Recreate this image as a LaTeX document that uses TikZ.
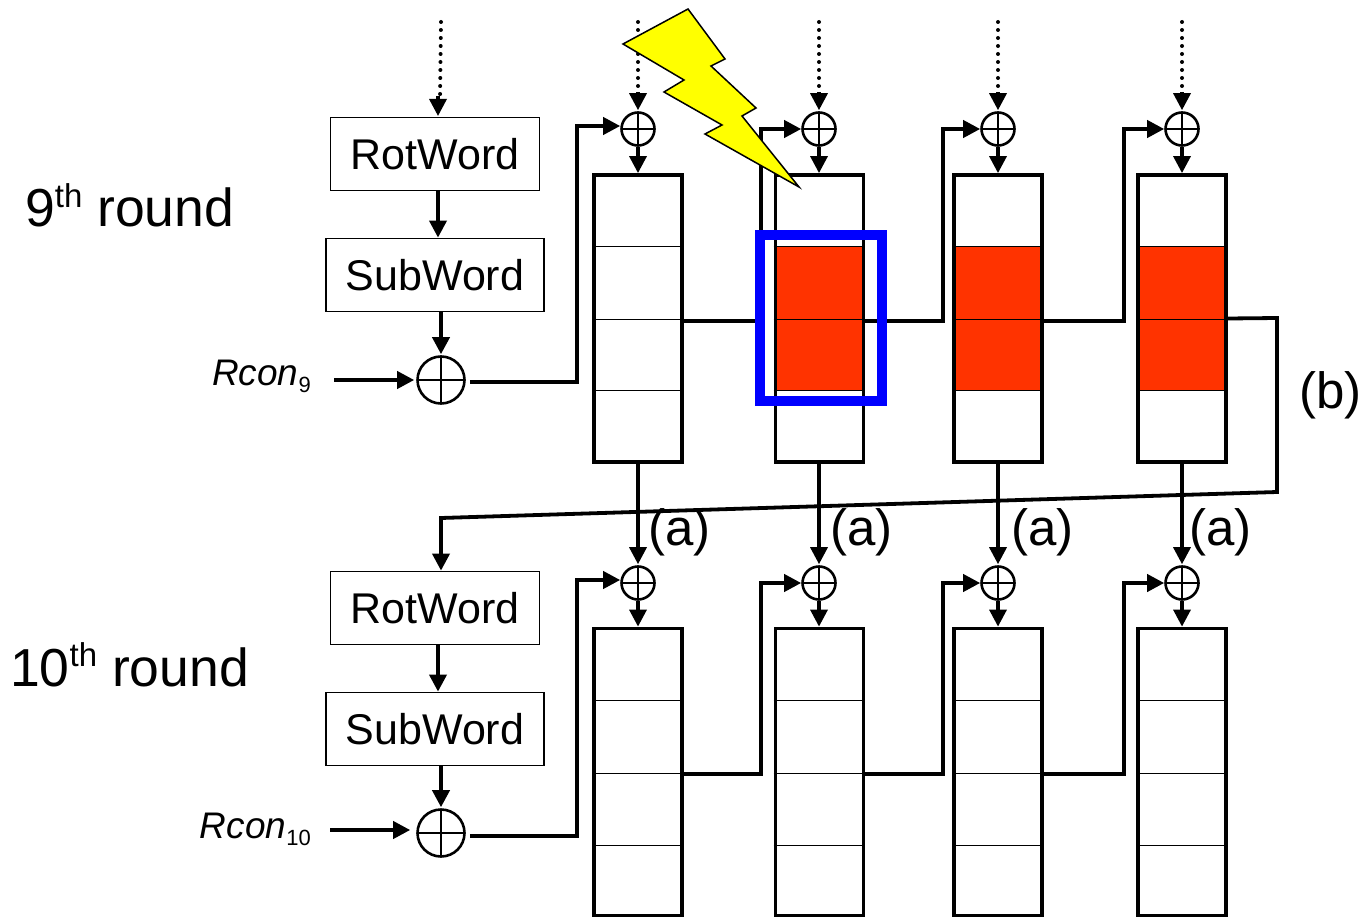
\documentclass[tikz,border=0pt]{standalone}
\usepackage{fontspec}
\setmainfont{Liberation Sans}
\usetikzlibrary{arrows.meta}
\definecolor{hotred}{RGB}{255,51,0}
\definecolor{purebluex}{RGB}{0,0,255}
\definecolor{boltyellow}{RGB}{255,255,0}
\tikzset{
  conn/.style={line width=3.8pt,-{Triangle[length=17pt,width=17pt]}},
  wirethin/.style={line width=3.4pt,-{Triangle[length=17pt,width=17pt]}},
  dotline/.style={line width=4pt,line cap=round,dash pattern=on 0pt off 8pt},
  opbox/.style={draw,line width=1.8pt,inner sep=0pt,font=\fontsize{43}{43}\selectfont,minimum height=73pt},
  colbox/.style={draw,line width=3.8pt,minimum width=88pt,minimum height=287pt,inner sep=0pt},
  cellline/.style={line width=1pt},
  xorsmall/.style={circle,draw,line width=2.6pt,minimum size=33pt,inner sep=0pt,
    path picture={\draw[line width=2.6pt] (path picture bounding box.north)--(path picture bounding box.south)
      (path picture bounding box.west)--(path picture bounding box.east);}},
  xorbig/.style={xorsmall,minimum size=47pt},
  txt/.style={inner sep=0pt,anchor=base west},
  bigtext/.style={txt,font=\fontsize{53.5}{53.5}\selectfont},
  lbl/.style={txt,font=\fontsize{51}{51}\selectfont},
  rc/.style={inner sep=0pt,anchor=base east,font=\fontsize{37}{37}\selectfont}
}
\begin{document}
\begin{tikzpicture}[x=1pt,y=-1pt]
\useasboundingbox (0,0) rectangle (1364,917);
% red cells
\foreach \a/\b in {777/862,955/1041,1139/1225}
  \fill[hotred] (\a,247) rectangle (\b,390);
% columns
\foreach \n/\x/\y in {c1/638/318.5,c2/819.5/318.5,c3/998/318.5,c4/1182/318.5,d1/638/772,d2/819.5/772,d3/998/772,d4/1182/772}
  \node[colbox] (\n) at (\x,\y) {};
\foreach \n/\y in {c1/247,c1/319,c1/390,c2/247,c2/319,c2/390,c3/247,c3/319,c3/390,c4/247,c4/319,c4/390,
                   d1/700,d1/773,d1/845,d2/700,d2/773,d2/845,d3/700,d3/773,d3/845,d4/700,d4/773,d4/845}
  \draw[cellline] (\n.west |- 0,\y) -- (\n.east |- 0,\y);
% xors
\foreach \n/\x/\y in {x1/638/129,x2/819/129,x3/998/129,x4/1182/129,y1/638/583,y2/819/583,y3/998/583,y4/1182/583}
  \node[xorsmall] (\n) at (\x,\y) {};
\node[xorbig] (bx) at (441,380) {};
\node[xorbig] (by) at (441,833) {};
% word boxes
\node[opbox,minimum width=209pt] (rw1) at (435,154) {RotWord};
\node[opbox,minimum width=218pt] (sw1) at (435,275) {SubWord};
\node[opbox,minimum width=209pt] (rw2) at (435,608) {RotWord};
\node[opbox,minimum width=218pt] (sw2) at (435,729) {SubWord};
% free ends
\foreach \n/\x/\y in {t0/441/22,t1/638/22,t2/819/22,t3/998/22,t4/1182/22,r9/334/380,r10/330/830}
  \coordinate (\n) at (\x,\y);
% dotted feeds
\draw[dotline] (t0) -- (440,99);
\draw[wirethin] (438,96) -- (438,116);
\foreach \n/\x in {t1/x1,t2/x2,t3/x3,t4/x4}{
  \draw[dotline] (\n) -- ([yshift=17pt]\x.north);
  \draw[wirethin] ([yshift=19pt]\x.north) -- ([yshift=1pt]\x.north);
}
% chain
\draw[conn] ([xshift=3pt]rw1.south) -- ([xshift=3pt]sw1.north);
\draw[conn] (sw1.south -| bx) -- ([yshift=1pt]bx.north);
\draw[conn] ([xshift=3pt]rw2.south) -- ([xshift=3pt]sw2.north);
\draw[conn] (sw2.south -| by) -- ([yshift=1pt]by.north);
\draw[conn] (r9) -- ([xshift=-2pt]bx.west);
\draw[conn] (r10) -- ([xshift=-6pt,yshift=3pt]by.west);
\foreach \a/\b in {x1/c1,x2/c2,x3/c3,x4/c4,y1/d1,y2/d2,y3/d3,y4/d4}
  \draw[wirethin] (\a.south) -- (\b.north -| \a);
\foreach \a/\b in {c1/y1,c2/y2,c3/y3,c4/y4}
  \draw[wirethin] (\a.south -| \b) -- ([yshift=1pt]\b.north);
% top feedthrough
\draw[conn] ([xshift=4pt,yshift=-2pt]bx.east) -| (577,126) -- ([yshift=3pt]x1.west);
\draw[conn] ([yshift=-2.5pt]c1.east) -| (761,129) -- (x2.west);
\draw[conn] ([yshift=-2.5pt]c2.east) -| (943,129) -- (x3.west);
\draw[conn] ([yshift=-2.5pt]c3.east) -| (1124,129) -- (x4.west);
\draw[conn] ([xshift=4pt,yshift=-3pt]by.east) -| (577,580) -- ([yshift=3pt]y1.west);
\draw[conn] ([yshift=-2pt]d1.east) -| (761,583) -- (y2.west);
\draw[conn] ([yshift=-2pt]d2.east) -| (943,583) -- (y3.west);
\draw[conn] ([yshift=-2pt]d3.east) -| (1124,583) -- (y4.west);
\draw[conn] (c4.east) -- (1277,318) -- (1277,492) -- (441,518) -- (rw2.north -| 441,0);
% blue frame
\draw[line width=10pt,purebluex] (760,235) rectangle (882,401);
% lightning
\draw[line width=1.5pt,fill=boltyellow,miter limit=10] (688,9) -- (725,59) -- (711,66) -- (756,108) -- (742,116) -- (799,187) -- (705,134) -- (722,125) -- (664,92) -- (684,80) -- (623,44) -- cycle;
% labels
\node[bigtext] (l9) at (25,227) {9\raisebox{0.36em}{\fontsize{33}{33}\selectfont th} round};
\node[bigtext] (l10) at (10,686) {10\raisebox{0.36em}{\fontsize{33}{33}\selectfont th} round};
\node[rc] (rc9) at (311,385) {\textit{Rcon}\raisebox{-0.2em}{\fontsize{22}{22}\selectfont 9}};
\node[rc] (rc10) at (311,838) {\textit{Rcon}\raisebox{-0.2em}{\fontsize{22}{22}\selectfont 10}};
\foreach \n/\x in {a1/648,a2/830,a3/1011,a4/1189}
  \node[lbl] (\n) at (\x,545) {(a)};
\node[lbl] (b) at (1299,408) {(b)};
\end{tikzpicture}
\end{document}
